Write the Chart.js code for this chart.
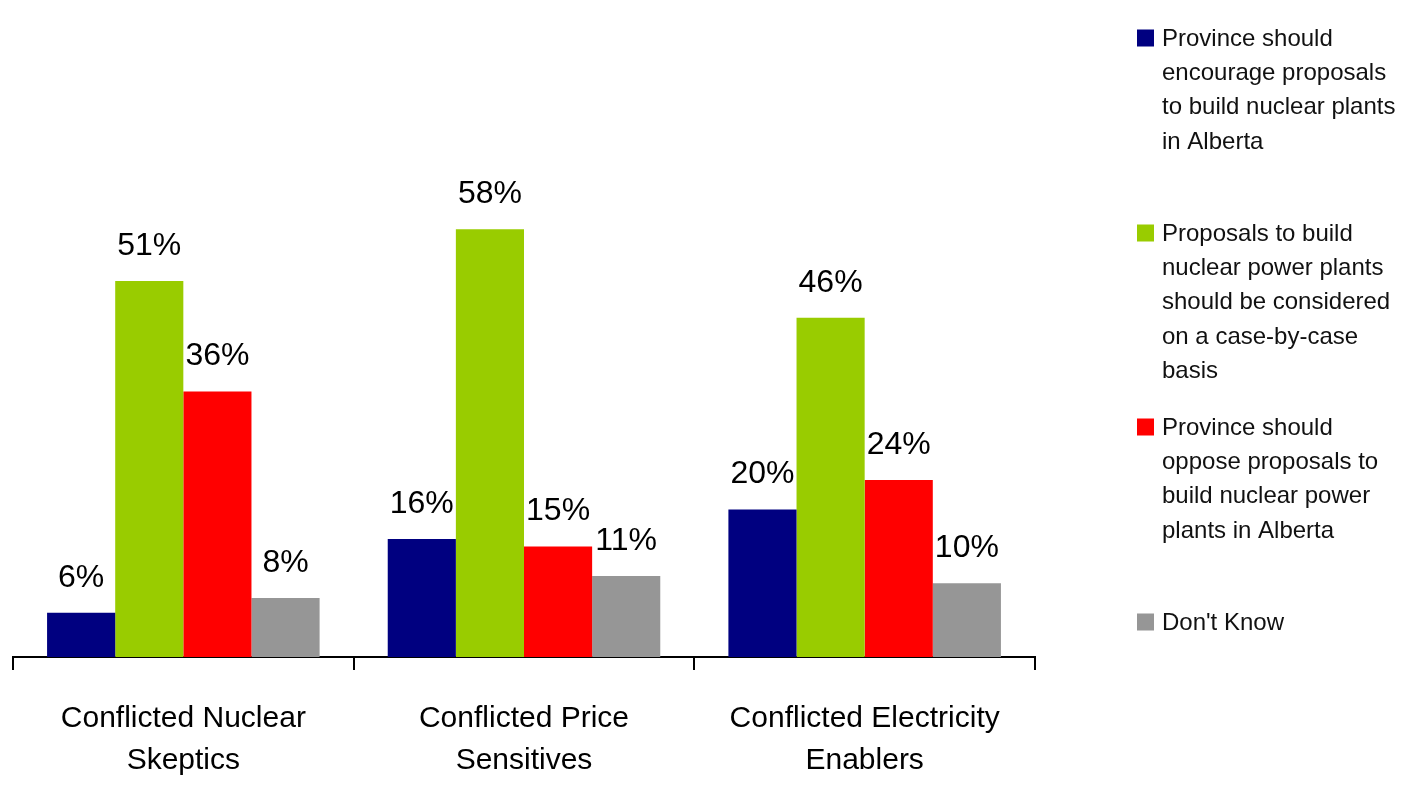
<!DOCTYPE html>
<html>
<head>
<meta charset="utf-8">
<title>Nuclear proposals by segment</title>
<script src="https://cdn.jsdelivr.net/npm/chart.js@4/dist/chart.umd.min.js"></script>
<style>
  html, body { margin: 0; padding: 0; background: #fff; }
  #wrap { width: 1404px; height: 785px; position: relative; }
</style>
</head>
<body>
<div id="wrap"><canvas id="segmentsChart"></canvas></div>
<script>
// Segments along the x axis (each label split into lines)
var segments = [
  ["Conflicted Nuclear", "Skeptics"],
  ["Conflicted Price", "Sensitives"],
  ["Conflicted Electricity", "Enablers"]
];

// Legend text, one array of lines per answer
var seriesNames = [
  ["Province should", "encourage proposals", "to build nuclear plants", "in Alberta"],
  ["Proposals to build", "nuclear power plants", "should be considered", "on a case-by-case", "basis"],
  ["Province should", "oppose proposals to", "build nuclear power", "plants in Alberta"],
  ["Don't Know"]
];

// Percent answering, per segment
var encourageValues = [6, 16, 20];
var caseByCaseValues = [51, 58, 46];
var opposeValues = [36, 15, 24];
var dontKnowValues = [8, 11, 10];

var seriesColors = ["#000080", "#99CC00", "#FF0000", "#969696"];

var FONT = "'Liberation Sans', Arial, sans-serif";

// Percent labels above each bar
var barValueLabels = {
  id: 'barValueLabels',
  afterDatasetsDraw: function(chart) {
    var ctx = chart.ctx;
    ctx.save();
    ctx.font = "32px " + FONT;
    ctx.fillStyle = "#000";
    ctx.textAlign = "center";
    ctx.textBaseline = "middle";
    chart.data.datasets.forEach(function(ds, i) {
      chart.getDatasetMeta(i).data.forEach(function(bar, j) {
        ctx.fillText(ds.data[j] + "%", bar.x, bar.y - 35);
      });
    });
    ctx.restore();
  }
};

// Legend stacked on the right, multi-line entries
var sideLegend = {
  id: 'sideLegend',
  afterDraw: function(chart) {
    var ctx = chart.ctx;
    var firstLines = [38, 233, 427, 622];
    ctx.save();
    ctx.font = "24px " + FONT;
    ctx.textAlign = "left";
    ctx.textBaseline = "middle";
    chart.data.datasets.forEach(function(ds, i) {
      var y0 = firstLines[i];
      ctx.fillStyle = ds.backgroundColor;
      ctx.fillRect(1137, y0 - 8.5, 17, 17);
      ctx.fillStyle = "#111";
      ds.label.forEach(function(line, k) {
        ctx.fillText(line, 1162, y0 + 1 + k * 34.3);
      });
    });
    ctx.restore();
  }
};

var datasets = [encourageValues, caseByCaseValues, opposeValues, dontKnowValues].map(function(values, i) {
  return {
    label: seriesNames[i],
    data: values,
    backgroundColor: seriesColors[i],
    borderWidth: 0,
    categoryPercentage: 0.8,
    barPercentage: 1.0
  };
});

var segmentsChart = new Chart(document.getElementById('segmentsChart'), {
  type: 'bar',
  data: {
    labels: segments,
    datasets: datasets
  },
  options: {
    responsive: true,
    maintainAspectRatio: false,
    animation: false,
    layout: {
      padding: { left: 13, right: 369, top: 67, bottom: 6 }
    },
    plugins: {
      legend: { display: false },
      tooltip: { enabled: false }
    },
    scales: {
      x: {
        afterFit: function(scale) {
          // baseline sits 128px above the bottom edge
          scale.height = 122;
        },
        grid: {
          offset: true,
          drawOnChartArea: false,
          color: "#000",
          lineWidth: 2,
          tickLength: 13
        },
        border: { color: "#000", width: 2 },
        ticks: {
          color: "#000",
          padding: 28,
          maxRotation: 0,
          autoSkip: false,
          font: { family: FONT, size: 30, lineHeight: 1.4 }
        }
      },
      y: {
        display: false,
        min: 0,
        max: 80
      }
    }
  },
  plugins: [barValueLabels, sideLegend]
});
</script>
</body>
</html>
